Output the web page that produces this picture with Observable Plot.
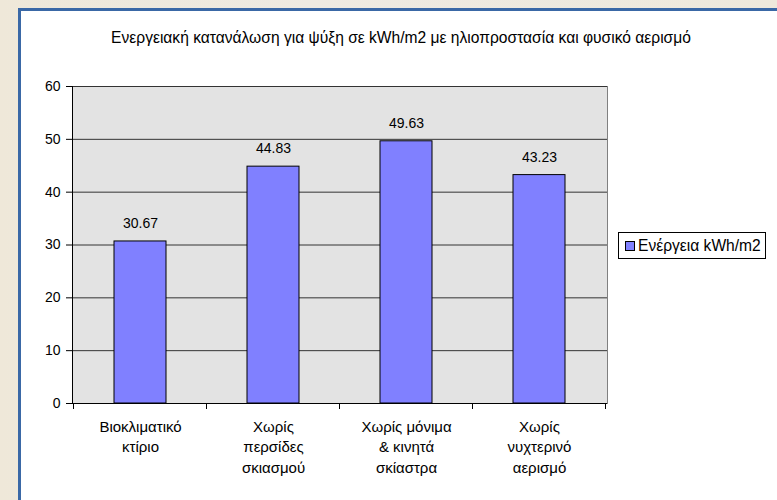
<!DOCTYPE html>
<html>
<head>
<meta charset="utf-8">
<script src="https://cdn.jsdelivr.net/npm/d3@7"></script>
<script src="https://cdn.jsdelivr.net/npm/@observablehq/plot@0.6"></script>
<style>
  html, body { margin: 0; padding: 0; }
  body {
    width: 777px; height: 500px; overflow: hidden; position: relative;
    background: linear-gradient(90deg, #efe8d9 0%, #eeeae2 40%, #efe9dc 100%);
    font-family: "Liberation Sans", Arial, sans-serif;
  }
  #panel {
    position: absolute; left: 18px; top: 8px; width: 800px; height: 520px;
    background: #fff; border-left: 3px solid #3a68a6; border-top: 3px solid #3a68a6;
  }
  #legend {
    position: absolute; left: 618px; top: 232px; width: 146px; height: 25px;
    border: 1px solid #000; background: #fff; font-size: 15.6px; color: #000;
    display: flex; align-items: center; box-sizing: content-box; white-space: nowrap;
  }
  #legend .sw {
    width: 8px; height: 8px; background: #8080ff; border: 1px solid #000;
    margin-left: 6px; margin-right: 3px;
  }
</style>
</head>
<body>
<div id="panel"></div>
<div id="legend"><span class="sw"></span><span id="legend-label"></span></div>
<script>
// Cooling energy use per scenario (kWh/m2)
const titleText = "Ενεργειακή κατανάλωση για ψύξη σε kWh/m2 με ηλιοπροστασία και φυσικό αερισμό";
const seriesName = "Ενέργεια kWh/m2";
const categories = [
  "Βιοκλιματικό\nκτίριο",
  "Χωρίς\nπερσίδες\nσκιασμού",
  "Χωρίς μόνιμα\n& κινητά\nσκίαστρα",
  "Χωρίς\nνυχτερινό\nαερισμό"
];
const energy = [30.67, 44.83, 49.63, 43.23];
const yTicks = [0, 10, 20, 30, 40, 50, 60];

const data = categories.map((c, i) => ({category: c, value: energy[i]}));

const chart = Plot.plot({
  width: 756,
  height: 489,
  marginLeft: 51,
  marginRight: 170,
  marginTop: 75,
  marginBottom: 97,
  style: {fontFamily: "'Liberation Sans', Arial, sans-serif", fontSize: "14px", color: "#000", background: "transparent"},
  x: {domain: categories, paddingInner: 0.61, paddingOuter: 0.305, label: null},
  y: {domain: [0, 60], label: null},
  marks: [
    Plot.frame({fill: "#e3e3e3", stroke: "#808080"}),
    Plot.gridY(yTicks, {stroke: "#333", strokeOpacity: 1}),
    Plot.barY(data, {x: "category", y: "value", fill: "#8080ff", stroke: "#000", strokeWidth: 1}),
    Plot.text(data, {x: "category", y: "value", text: d => d.value.toFixed(2), dy: -18, fontSize: 14, fill: "#000"}),
    Plot.axisY({ticks: yTicks, tickSize: 6, tickPadding: 6, fontSize: 14, stroke: "#000", fill: "#000"}),
    Plot.axisX({tickSize: 0, tickPadding: 14, fontSize: 15, lineHeight: 1.36, fill: "#000"}),
    Plot.frame({anchor: "left", stroke: "#000"}),
    Plot.ruleY([0], {stroke: "#000"}),
    Plot.text([titleText], {text: d => d, frameAnchor: "top", lineAnchor: "middle", dx: 61, dy: -49, fontSize: 15.6, fill: "#000"})
  ]
});

// Category boundary ticks below the x axis, placed from the band scale
const sx = chart.scale("x"), sy = chart.scale("y");
const gap = (sx.step - sx.bandwidth) / 2;
const edges = categories.map(c => sx.apply(c) - gap)
  .concat(sx.apply(categories[categories.length - 1]) + sx.bandwidth + gap);
const y0 = sy.apply(0);
d3.select(chart).append("g")
  .attr("stroke", "#000")
  .selectAll("line")
  .data(edges)
  .join("line")
  .attr("x1", d => d).attr("x2", d => d)
  .attr("y1", y0).attr("y2", y0 + 6);

document.getElementById("panel").appendChild(chart);
document.getElementById("legend-label").textContent = seriesName;
</script>
</body>
</html>
